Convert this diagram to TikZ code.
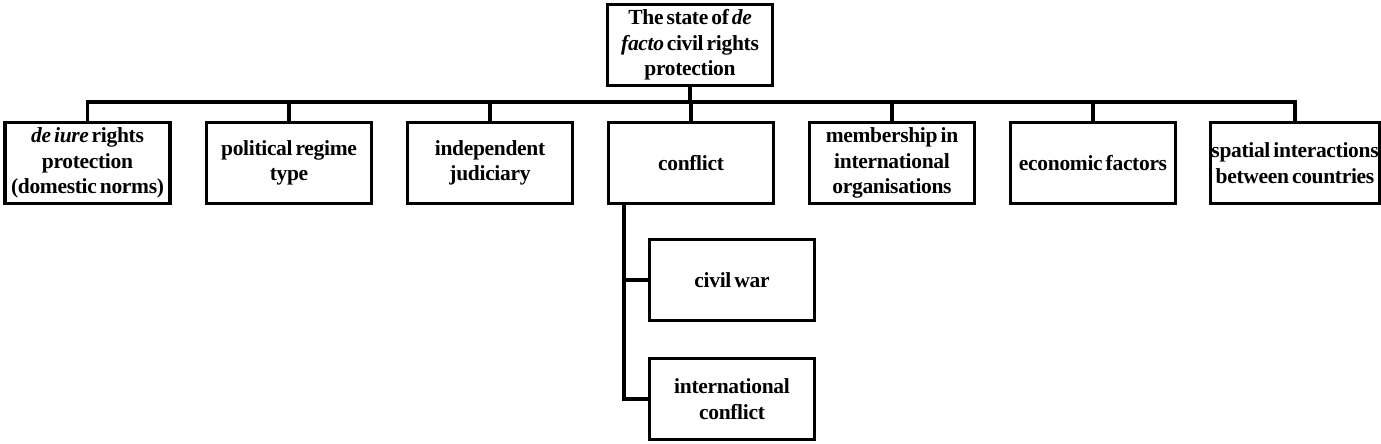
\documentclass[tikz,border=0pt]{standalone}
\usepackage{fontspec}
\setmainfont{Liberation Serif}[LetterSpace=-1.5, WordSpace=0.6]
\begin{document}
\begin{tikzpicture}[x=1pt,y=-1pt,
  box/.style={draw=black, line width=3.8pt, minimum width=165pt, minimum height=81pt,
    inner sep=1pt, align=center, font=\fontsize{21.5}{25.5}\selectfont\bfseries},
  link/.style={line width=3.8pt}]
\useasboundingbox (0,0) rectangle (1381,444);
\node[box] (top) at (690,45) {The state of \textit{de}\\\textit{facto} civil rights\\protection};
\node[box] (b1) at (87.5,163) {\textit{de iure} rights\\protection\\(domestic norms)};
\node[box] (b2) at (289,163) {political regime\\type};
\node[box] (b3) at (490,163) {independent\\judiciary};
\node[box] (b4) at (691,163) {conflict};
\node[box] (b5) at (892,163) {membership in\\international\\organisations};
\node[box] (b6) at (1093,163) {economic factors};
\node[box] (b7) at (1295,163) {spatial interactions\\between countries};
\node[box] (civ) at (732,280) {civil war};
\node[box] (intl) at (732,399) {international\\conflict};
\coordinate (bar) at (690,102);
\coordinate (cv) at (624,300);
\draw[link] (top.south) -- (top.south |- bar);
\draw[link, line cap=rect] (b1.north |- bar) -- (b7.north |- bar);
\foreach \b in {b1,b2,b3,b4,b5,b6,b7} {\draw[link] (\b.north) -- (\b.north |- bar);}
\draw[link] (b4.south -| cv) -- (cv |- intl.west) -- (intl.west);
\draw[link] (cv |- civ.west) -- (civ.west);
\end{tikzpicture}
\end{document}
